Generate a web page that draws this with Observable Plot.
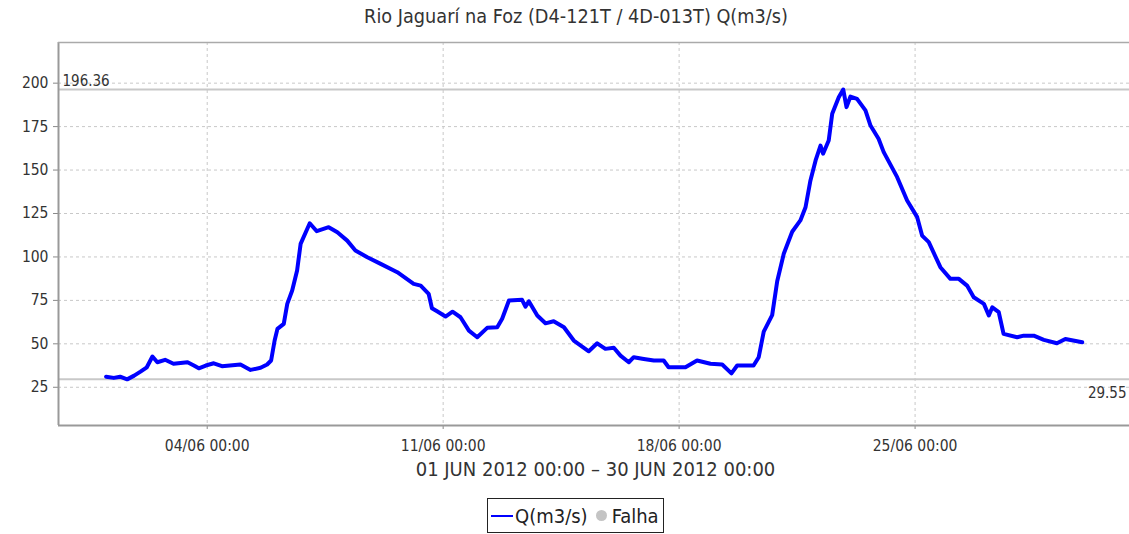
<!DOCTYPE html>
<html><head><meta charset="utf-8">
<script src="https://cdn.jsdelivr.net/npm/d3@7"></script>
<script src="https://cdn.jsdelivr.net/npm/@observablehq/plot@0.6"></script>
<style>
body{margin:0;background:#fff;font-family:"DejaVu Sans Condensed","DejaVu Sans",sans-serif;}
#wrap{position:relative;width:1129px;height:534px;overflow:hidden;background:#fff;}
#title{position:absolute;top:5px;left:0;width:1152px;text-align:center;font-size:19.7px;color:#333;white-space:nowrap;}
#chart{position:absolute;top:30px;left:0;}
#xlabel{position:absolute;top:457px;left:58px;width:1075px;text-align:center;font-size:20px;color:#333;white-space:nowrap;}
#legend{position:absolute;top:498px;left:487px;width:177px;height:35px;border:1px solid #222;box-sizing:border-box;display:flex;align-items:center;padding-left:3px;font-size:20px;color:#222;white-space:nowrap;}
#legend .ln{display:inline-block;width:22px;height:2px;background:#0000ff;margin-right:2px;}
#legend .dot{display:inline-block;width:11px;height:11px;border-radius:50%;background:#c4c4c4;margin:0 5px 0 8px;}
</style></head>
<body><div id="wrap">
<div id="title">Rio Jaguarí na Foz (D4-121T / 4D-013T) Q(m3/s)</div>
<div id="chart"></div>
<div id="xlabel">01 JUN 2012 00:00 – 30 JUN 2012 00:00</div>
<div id="legend"><span class="ln"></span><span>Q(m3/s)</span><span class="dot"></span><span>Falha</span></div>
</div>
<script>
const times = [
"2012-06-01T00:00","2012-06-01T05:30","2012-06-01T10:00","2012-06-01T15:00","2012-06-01T20:00",
"2012-06-02T00:30","2012-06-02T05:00","2012-06-02T09:00","2012-06-02T12:30","2012-06-02T18:00",
"2012-06-03T00:00","2012-06-03T10:00","2012-06-03T14:30","2012-06-03T18:00","2012-06-03T23:00",
"2012-06-04T04:40","2012-06-04T10:30","2012-06-04T23:40","2012-06-05T06:50","2012-06-05T14:00",
"2012-06-05T18:40","2012-06-05T21:30","2012-06-06T00:00","2012-06-06T02:00","2012-06-06T06:30",
"2012-06-06T09:00","2012-06-06T12:30","2012-06-06T16:00","2012-06-06T18:30","2012-06-07T01:00",
"2012-06-07T06:00","2012-06-07T14:30","2012-06-07T20:40","2012-06-08T03:40","2012-06-08T09:30",
"2012-06-08T18:00","2012-06-09T03:30","2012-06-09T15:20","2012-06-10T03:00","2012-06-10T08:00",
"2012-06-10T13:40","2012-06-10T16:00","2012-06-10T19:40","2012-06-11T01:40","2012-06-11T06:40",
"2012-06-11T12:20","2012-06-11T18:20","2012-06-12T00:15","2012-06-12T07:20","2012-06-12T14:30",
"2012-06-12T18:00","2012-06-12T22:50","2012-06-13T08:10","2012-06-13T10:35","2012-06-13T13:00",
"2012-06-13T19:00","2012-06-14T00:50","2012-06-14T06:40","2012-06-14T14:00","2012-06-14T21:00",
"2012-06-15T07:40","2012-06-15T13:40","2012-06-15T19:30","2012-06-16T01:30","2012-06-16T06:15",
"2012-06-16T12:10","2012-06-16T15:40","2012-06-16T22:50","2012-06-17T06:00","2012-06-17T13:00",
"2012-06-17T16:30","2012-06-18T04:30","2012-06-18T12:45","2012-06-18T22:20","2012-06-19T06:40",
"2012-06-19T13:15","2012-06-19T17:20","2012-06-20T05:00","2012-06-20T08:40","2012-06-20T12:15",
"2012-06-20T18:15","2012-06-20T21:50","2012-06-21T02:30","2012-06-21T08:30","2012-06-21T14:20",
"2012-06-21T18:00","2012-06-21T21:30","2012-06-22T01:10","2012-06-22T04:40","2012-06-22T06:30",
"2012-06-22T10:30","2012-06-22T13:00","2012-06-22T17:40","2012-06-22T20:50","2012-06-22T23:10",
"2012-06-23T02:00","2012-06-23T06:40","2012-06-23T12:40","2012-06-23T16:15","2012-06-23T22:00",
"2012-06-24T01:40","2012-06-24T11:15","2012-06-24T18:20","2012-06-25T01:30","2012-06-25T05:00",
"2012-06-25T09:45","2012-06-25T18:00","2012-06-26T01:10","2012-06-26T07:10","2012-06-26T13:00",
"2012-06-26T17:45","2012-06-27T01:00","2012-06-27T04:30","2012-06-27T07:00","2012-06-27T11:35",
"2012-06-27T15:00","2012-06-28T00:40","2012-06-28T05:20","2012-06-28T12:30","2012-06-28T19:40",
"2012-06-29T05:00","2012-06-29T11:00","2012-06-29T23:00"
];
const flows = [
31.1,30.4,31.1,29.55,31.7,
34.0,36.5,42.7,39.4,40.8,
38.5,39.4,37.5,35.9,37.5,
38.8,37.1,38.1,35.0,36.2,
38.1,40.4,51.9,58.6,61.5,
73.0,80.7,92.2,107.5,119.4,
114.8,117.1,114.2,109.4,103.7,
99.8,96.0,91.2,84.5,83.5,
78.8,70.5,68.7,65.7,68.5,
65.3,57.6,53.8,59.2,59.5,
64.4,74.9,75.3,71.4,74.5,
66.3,61.8,63.0,59.5,51.9,
45.7,50.3,47.1,47.7,43.2,
39.4,42.3,41.3,40.4,40.4,
36.5,36.5,40.4,38.5,38.1,
33.0,37.5,37.5,42.3,57.0,
66.5,86.0,101.8,114.5,121.0,
128.6,144.0,155.5,164.1,159.4,
167.0,182.4,191.9,196.36,186.2,
192.3,191.0,184.3,175.6,168.0,
160.3,145.9,132.5,122.9,112.3,
108.5,94.1,87.4,87.4,83.5,
76.8,73.0,66.3,71.0,68.2,
55.7,53.8,54.7,54.7,52.3,
50.3,52.8,50.9
];
const yTicks = [25,50,75,100,125,150,175,200];
const xTicks = ["2012-06-04T00:00","2012-06-11T00:00","2012-06-18T00:00","2012-06-25T00:00"];
const markerValues = [196.36, 29.55];
const markerLabels = ["196.36", "29.55"];

const utc = s => new Date(s + "Z");
const data = times.map((t, i) => ({date: utc(t), q: flows[i]}));
const xDomain = [utc("2012-05-30T14:07"), utc("2012-07-01T08:40")];
const yDomain = [3, 223.4];
const fmt = d3.utcFormat("%d/%m %H:%M");

const chart = Plot.plot({
  width: 1129,
  height: 425,
  marginLeft: 58,
  marginRight: 0,
  marginTop: 12,
  marginBottom: 30,
  style: {fontFamily: '"DejaVu Sans Condensed","DejaVu Sans",sans-serif', fontSize: "15.5px", color: "#333", background: "#fff"},
  x: {type: "utc", domain: xDomain, label: null},
  y: {domain: yDomain, label: null},
  marks: [
    Plot.gridY(yTicks, {stroke: "#c8c8c8", strokeOpacity: 1, strokeDasharray: "3,3"}),
    Plot.gridX(xTicks.map(utc), {stroke: "#c8c8c8", strokeOpacity: 1, strokeDasharray: "3,3"}),
    Plot.ruleY(markerValues, {stroke: "#c8c8c8", strokeWidth: 2}),
    Plot.text([0], {x: () => xDomain[0], y: () => markerValues[0], text: () => markerLabels[0], textAnchor: "start", lineAnchor: "bottom", dx: 4, dy: -3, fill: "#333", fontSize: 15}),
    Plot.text([1], {x: () => xDomain[1], y: () => markerValues[1], text: () => markerLabels[1], textAnchor: "end", lineAnchor: "top", dx: -3, dy: 8, fill: "#333", fontSize: 15}),
    Plot.line(data, {x: "date", y: "q", stroke: "#0000ff", strokeWidth: 4, strokeLinejoin: "round", strokeLinecap: "round"}),
    Plot.axisY(yTicks, {label: null, tickSize: 5, tickPadding: 5, fontSize: 15.5, stroke: "#888", fill: "#333"}),
    Plot.axisX(xTicks.map(utc), {label: null, tickSize: 4, tickPadding: 10, fontSize: 15.5, tickFormat: fmt, stroke: "#888", fill: "#333"}),
    Plot.ruleX([xDomain[0]], {stroke: "#999", strokeWidth: 2}),
    Plot.ruleY([yDomain[0]], {stroke: "#999", strokeWidth: 2}),
    Plot.ruleY([yDomain[1]], {stroke: "#aaa", strokeWidth: 1.5})
  ]
});
document.getElementById("chart").appendChild(chart);
</script>
</body></html>
